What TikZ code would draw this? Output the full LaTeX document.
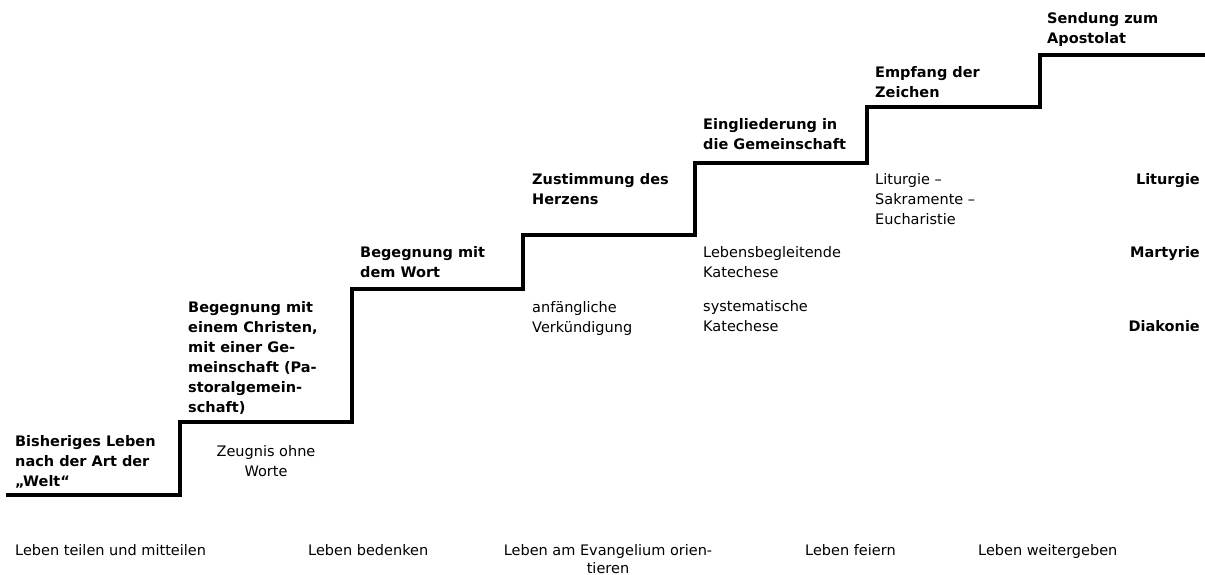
\documentclass[tikz,border=0pt]{standalone}
\usepackage{fontspec}
\setmainfont{DejaVu Sans}
\usetikzlibrary{positioning}

\begin{document}
\begin{tikzpicture}[
x=1pt,y=1pt,
stage/.style={anchor=north west,align=left,inner sep=0pt,font=\bfseries\fontsize{14.5}{20}\selectfont},
note/.style={anchor=north west,align=left,inner sep=0pt,font=\fontsize{14.5}{20}\selectfont},
pillar/.style={anchor=north east,inner sep=0pt,font=\bfseries\fontsize{14.5}{20}\selectfont},
life/.style={anchor=north west,align=center,inner sep=0pt,font=\fontsize{14.5}{18}\selectfont},
stair/.style={line width=4pt}]
\useasboundingbox[fill=white] (0,0) rectangle (1205,575);
\coordinate (s0) at (6,80);
\coordinate (s1) at (180,153);
\coordinate (s2) at (352,286);
\coordinate (s3) at (523,340);
\coordinate (s4) at (695,412);
\coordinate (s5) at (867,468);
\coordinate (s6) at (1040,520);
\coordinate (s7) at (1205,520);
\draw[stair] (s0) -| (s1) -| (s2) -| (s3) -| (s4) -| (s5) -| (s6) -- (s7);
\node[stage] (bisher) at (15,140) {Bisheriges Leben\\nach der Art der\\„Welt“};
\node[stage] (christ) at (188,274) {Begegnung mit\\einem Christen,\\mit einer Ge-\\meinschaft (Pa-\\storalgemein-\\schaft)};
\node[note,anchor=north,align=center] (zeugnis) at (266,130) {Zeugnis ohne\\Worte};
\node[stage] (wort) at (360,329) {Begegnung mit\\dem Wort};
\node[stage] (herz) at (532,402) {Zustimmung des\\Herzens};
\node[note] (anf) at (532,274) {anfängliche\\Verkündigung};
\node[stage] (eingl) at (703,457) {Eingliederung in\\die Gemeinschaft};
\node[note] (lebbeg) at (703,329) {Lebensbegleitende\\Katechese};
\node[note] (syst) at (703,275) {systematische\\Katechese};
\node[stage] (empf) at (875,509) {Empfang der\\Zeichen};
\node[note] (litsak) at (875,402) {Liturgie –\\Sakramente –\\Eucharistie};
\node[stage] (sendung) at (1047,563) {Sendung zum\\Apostolat};
\node[pillar] (liturgie) at (1200,402) {Liturgie};
\node[pillar] (martyrie) at (1200,329) {Martyrie};
\node[pillar] (diakonie) at (1200,255) {Diakonie};
\node[life] (teilen) at (15,31) {Leben teilen und mitteilen};
\node[life] (bedenken) at (308,31) {Leben bedenken};
\node[life,anchor=north] (evang) at (608,31) {Leben am Evangelium orien-\\tieren};
\node[life] (feiern) at (805,31) {Leben feiern};
\node[life] (weiter) at (978,31) {Leben weitergeben};
\end{tikzpicture}
\end{document}
